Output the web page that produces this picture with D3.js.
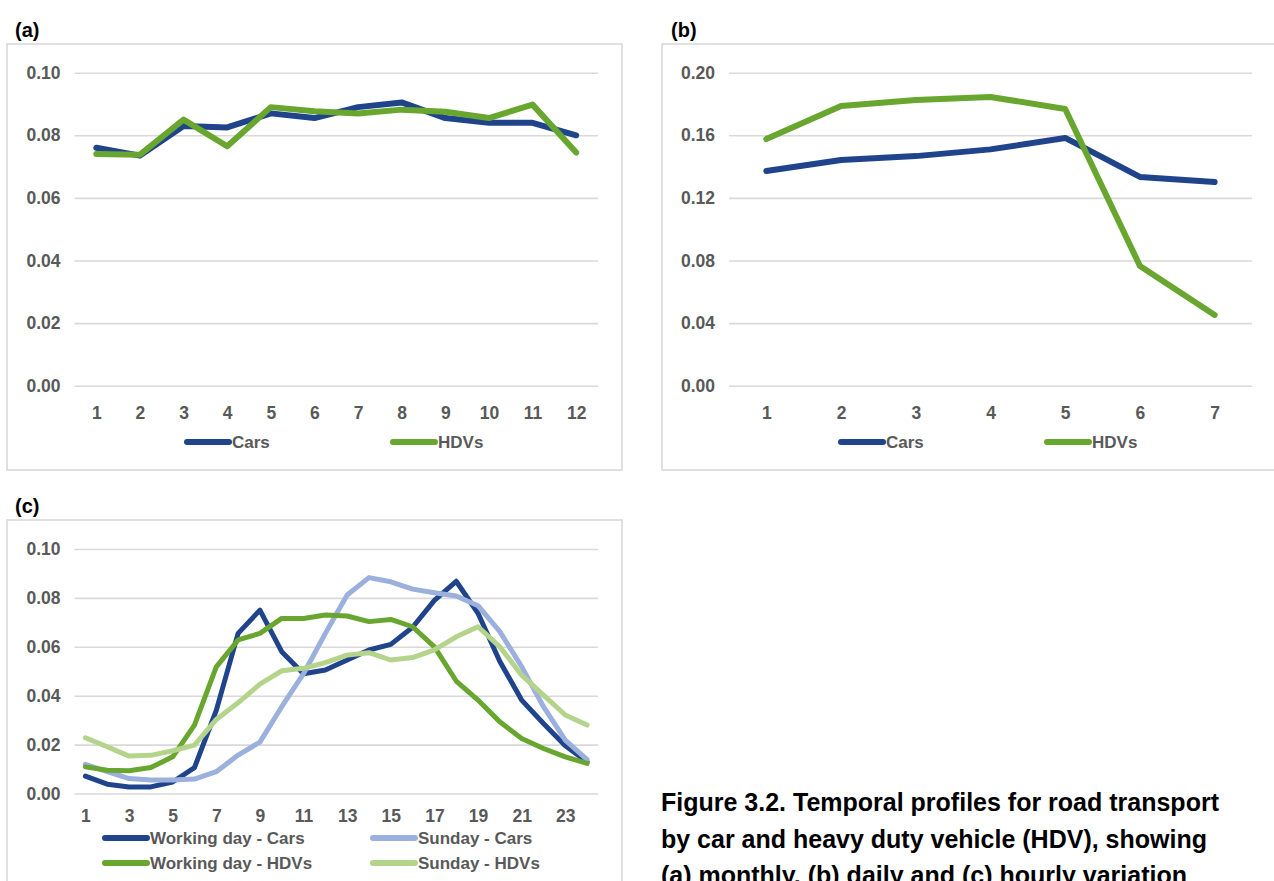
<!DOCTYPE html>
<html>
<head>
<meta charset="utf-8">
<script src="https://cdn.jsdelivr.net/npm/d3@7"></script>
<style>
  html, body { margin: 0; padding: 0; background: #ffffff; overflow: hidden; }
  svg { display: block; font-family: "Liberation Sans", Arial, sans-serif; }
</style>
</head>
<body>
<svg id="chart" width="1274" height="881"></svg>
<script>
// ---------------- DATA ----------------
const months = [1,2,3,4,5,6,7,8,9,10,11,12];
const monthlyCars = [0.0760,0.0735,0.0830,0.0825,0.0870,0.0855,0.0890,0.0905,0.0855,0.0840,0.0840,0.0800];
const monthlyHDVs = [0.0740,0.0738,0.0850,0.0765,0.0890,0.0877,0.0870,0.0882,0.0875,0.0855,0.0898,0.0745];

const days = [1,2,3,4,5,6,7];
const dailyCars = [0.1372,0.1442,0.1467,0.1510,0.1583,0.1334,0.1302];
const dailyHDVs = [0.1576,0.1787,0.1826,0.1845,0.1768,0.0765,0.0452];

const hours = [1,2,3,4,5,6,7,8,9,10,11,12,13,14,15,16,17,18,19,20,21,22,23,24];
const hourTickLabels = [1,3,5,7,9,11,13,15,17,19,21,23];
const workdayCars = [0.0071,0.0038,0.0027,0.0027,0.0047,0.0106,0.0340,0.0655,0.0750,0.0580,0.0490,0.0505,0.0546,0.0587,0.0610,0.0680,0.0790,0.0868,0.0737,0.0540,0.0382,0.0286,0.0195,0.0130];
const sundayCars  = [0.0119,0.0089,0.0061,0.0055,0.0055,0.0059,0.0089,0.0157,0.0210,0.0355,0.0490,0.0655,0.0812,0.0883,0.0866,0.0836,0.0821,0.0808,0.0768,0.0662,0.0519,0.0355,0.0218,0.0139];
const workdayHDVs = [0.0109,0.0095,0.0093,0.0106,0.0150,0.0280,0.0518,0.0628,0.0655,0.0716,0.0716,0.0730,0.0726,0.0703,0.0712,0.0682,0.0600,0.0460,0.0382,0.0293,0.0225,0.0184,0.0150,0.0123];
const sundayHDVs  = [0.0228,0.0191,0.0153,0.0156,0.0175,0.0198,0.0303,0.0371,0.0447,0.0502,0.0512,0.0535,0.0566,0.0576,0.0546,0.0556,0.0587,0.0641,0.0682,0.0600,0.0484,0.0402,0.0321,0.0280];

const yTicksA = [0,0.02,0.04,0.06,0.08,0.10];
const yTicksB = [0,0.04,0.08,0.12,0.16,0.20];
const yTicksC = [0,0.02,0.04,0.06,0.08,0.10];

const seriesNamesAB = ["Cars","HDVs"];
const seriesNamesC = ["Working day - Cars","Sunday - Cars","Working day - HDVs","Sunday - HDVs"];
const captionLines = [
  "Figure 3.2. Temporal profiles for road transport",
  "by car and heavy duty vehicle (HDV), showing",
  "(a) monthly, (b) daily and (c) hourly variation"
];

// ---------------- STYLE ----------------
const C_BLUE = "#1f448b", C_GREEN = "#68a62f", C_LBLUE = "#9bb0dd", C_LGREEN = "#b4d48b";
const GRID = "#d9d9d9", TXT = "#595959";
const FS = 17.5, FSL = 17;

const svg = d3.select("#chart");
const fmt = d3.format(".2f");

function panel(opt) {
  svg.append("rect")
    .attr("x", opt.frame[0]).attr("y", opt.frame[1])
    .attr("width", opt.frame[2]).attr("height", opt.frame[3])
    .attr("fill", "none").attr("stroke", GRID).attr("stroke-width", 1.6);
  svg.append("text").attr("x", opt.labelX).attr("y", opt.labelY)
    .attr("font-size", 20).attr("font-weight", "bold").attr("fill", "#000")
    .text(opt.label);

  const x = d3.scalePoint().domain(opt.cats).range(opt.xr).padding(0.5);
  const y = d3.scaleLinear().domain(opt.yd).range(opt.yr);

  const yAxis = d3.axisLeft(y).tickValues(opt.yTicks).tickFormat(fmt)
    .tickSize(-(opt.xr[1] - opt.xr[0])).tickPadding(14);
  const gy = svg.append("g").attr("transform", `translate(${opt.xr[0]},0)`).call(yAxis);
  gy.select(".domain").remove();
  gy.selectAll("line").attr("stroke", GRID).attr("stroke-width", 1.6);
  gy.selectAll("text").attr("font-size", FS).attr("font-weight", "bold").attr("fill", TXT)
    .attr("font-family", "Liberation Sans, Arial, sans-serif");

  const xAxis = d3.axisBottom(x).tickSize(0).tickPadding(opt.xPad);
  if (opt.xTicks) xAxis.tickValues(opt.xTicks);
  const gx = svg.append("g").attr("transform", `translate(0,${opt.yr[0]})`).call(xAxis);
  gx.select(".domain").remove();
  gx.selectAll("text").attr("font-size", FS).attr("font-weight", "bold").attr("fill", TXT)
    .attr("font-family", "Liberation Sans, Arial, sans-serif");

  const line = d3.line().x((d, i) => x(opt.cats[i])).y(d => y(d));
  opt.series.forEach(s => {
    svg.append("path").datum(s.values)
      .attr("d", line).attr("fill", "none")
      .attr("stroke", s.color).attr("stroke-width", opt.lw)
      .attr("stroke-linejoin", "round").attr("stroke-linecap", "round");
  });

  opt.legend.forEach(l => {
    svg.append("line").attr("x1", l.x).attr("x2", l.x + 42).attr("y1", l.y).attr("y2", l.y)
      .attr("stroke", l.color).attr("stroke-width", 6).attr("stroke-linecap", "round");
    svg.append("text").attr("x", l.x + 45).attr("y", l.y).attr("dy", "0.36em")
      .attr("font-size", FSL).attr("font-weight", "bold").attr("fill", TXT)
      .text(l.name);
  });
}

panel({
  frame: [7, 44, 615, 426], label: "(a)", labelX: 15, labelY: 37,
  cats: months, xr: [74.5, 598], yd: [0, 0.10], yr: [385.7, 72.7], yTicks: yTicksA, xPad: 21,
  lw: 6,
  series: [
    { values: monthlyCars, color: C_BLUE },
    { values: monthlyHDVs, color: C_GREEN }
  ],
  legend: [
    { name: seriesNamesAB[0], color: C_BLUE, x: 187, y: 442 },
    { name: seriesNamesAB[1], color: C_GREEN, x: 393, y: 442 }
  ]
});

panel({
  frame: [662, 44, 640, 426], label: "(b)", labelX: 671, labelY: 37,
  cats: days, xr: [729, 1252], yd: [0, 0.20], yr: [385.7, 72.7], yTicks: yTicksB, xPad: 21,
  lw: 6,
  series: [
    { values: dailyCars, color: C_BLUE },
    { values: dailyHDVs, color: C_GREEN }
  ],
  legend: [
    { name: seriesNamesAB[0], color: C_BLUE, x: 841, y: 442 },
    { name: seriesNamesAB[1], color: C_GREEN, x: 1047, y: 442 }
  ]
});

panel({
  frame: [7, 520, 615, 400], label: "(c)", labelX: 15, labelY: 513,
  cats: hours, xTicks: hourTickLabels, xr: [74.5, 598], yd: [0, 0.10], yr: [793.5, 549], yTicks: yTicksC, xPad: 16.5,
  lw: 5,
  series: [
    { values: workdayCars, color: C_BLUE },
    { values: sundayCars, color: C_LBLUE },
    { values: workdayHDVs, color: C_GREEN },
    { values: sundayHDVs, color: C_LGREEN }
  ],
  legend: [
    { name: seriesNamesC[0], color: C_BLUE, x: 105, y: 838 },
    { name: seriesNamesC[1], color: C_LBLUE, x: 373, y: 838 },
    { name: seriesNamesC[2], color: C_GREEN, x: 105, y: 863 },
    { name: seriesNamesC[3], color: C_LGREEN, x: 373, y: 863 }
  ]
});

const cap = svg.append("text").attr("x", 661).attr("font-size", 25).attr("font-weight", "bold").attr("fill", "#000");
captionLines.forEach((t, i) => {
  cap.append("tspan").attr("x", 661).attr("y", 811 + i * 36.5).text(t);
});
</script>
</body>
</html>
